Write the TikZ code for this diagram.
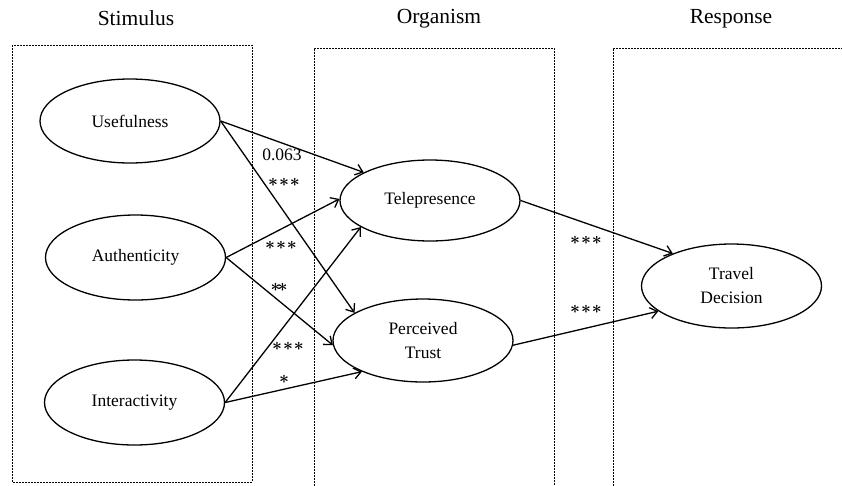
\documentclass[tikz,border=0pt]{standalone}
\usepackage{bm}
\usepackage{fontspec}
\setmainfont{Liberation Serif}
\usetikzlibrary{shapes.geometric,arrows.meta}
\newcommand{\stars}[1]{$\bm{#1}$}
\begin{document}
\begin{tikzpicture}[x=1pt,y=-1pt,
  oval/.style={ellipse,draw,line width=1.3pt,minimum width=180pt,minimum height=84pt,
    inner sep=0pt,align=center,font=\fontsize{17.5}{24}\selectfont},
  zone/.style={draw,line width=0.9pt,dash pattern=on 2pt off 1pt},
  head/.style={font=\fontsize{21.5}{24}\selectfont,inner sep=0pt},
  link/.style={line width=1.3pt,-{Straight Barb[length=7pt,width=11pt]}},
  sig/.style={font=\fontsize{17.5}{20}\selectfont,inner sep=0pt}]
\useasboundingbox (0,0) rectangle (842,485);

% stage frames
\draw[zone] (12,45) rectangle (252,482);
\draw[zone] (314,492) -- (314,48) -- (554,48) -- (554,492);
\draw[zone] (613,492) -- (613,48) -- (846,48);

% stage headings
\node[head] (hS) at (136,18) {Stimulus};
\node[head] (hO) at (439,19) {Organism};
\node[head] (hR) at (731,19) {Response};

% constructs
\node[oval] (use)  at (130,121) {Usefulness};
\node[oval,minimum height=85pt] (auth) at (135.5,257.5) {Authenticity};
\node[oval,minimum height=85pt] (inter) at (134.5,402.5) {Interactivity};
\node[oval,minimum height=81pt] (tele) at (430,200.5) {Telepresence};
\node[oval,minimum height=83pt] (trust) at (423,340.5) {Perceived\\Trust};
\node[oval] (dec) at (731.5,286) {Travel\\Decision};

% paths
\draw[link] (use.east) -- (tele.157);
\draw[link] (use.east) -- (trust.158);
\draw[link] (auth.east) -- (tele.179);
\draw[link] (auth.east) -- (trust.183);
\draw[link] (inter.east) -- (tele.201);
\draw[link] (inter.east) -- (trust.207);
\draw[link] (tele.east) -- (dec.151);
\draw[link] (trust.-3) -- (dec.199);

% path coefficients
\node[sig] (c1) at (282,155) {0.063};
\node[sig] (s1) at (284,182) {\stars{\ast\!\ast\!\ast}};
\node[sig] (s2) at (281,245) {\stars{\ast\!\ast\!\ast}};
\node[sig] (s3) at (279,287) {\stars{\ast\!\ast}};
\node[sig] (s4) at (288,346) {\stars{\ast\!\ast\!\ast}};
\node[sig] (s5) at (284,379) {\stars{\ast}};
\node[sig] (s6) at (586,240) {\stars{\ast\!\ast\!\ast}};
\node[sig] (s7) at (586,309) {\stars{\ast\!\ast\!\ast}};
\end{tikzpicture}
\end{document}
